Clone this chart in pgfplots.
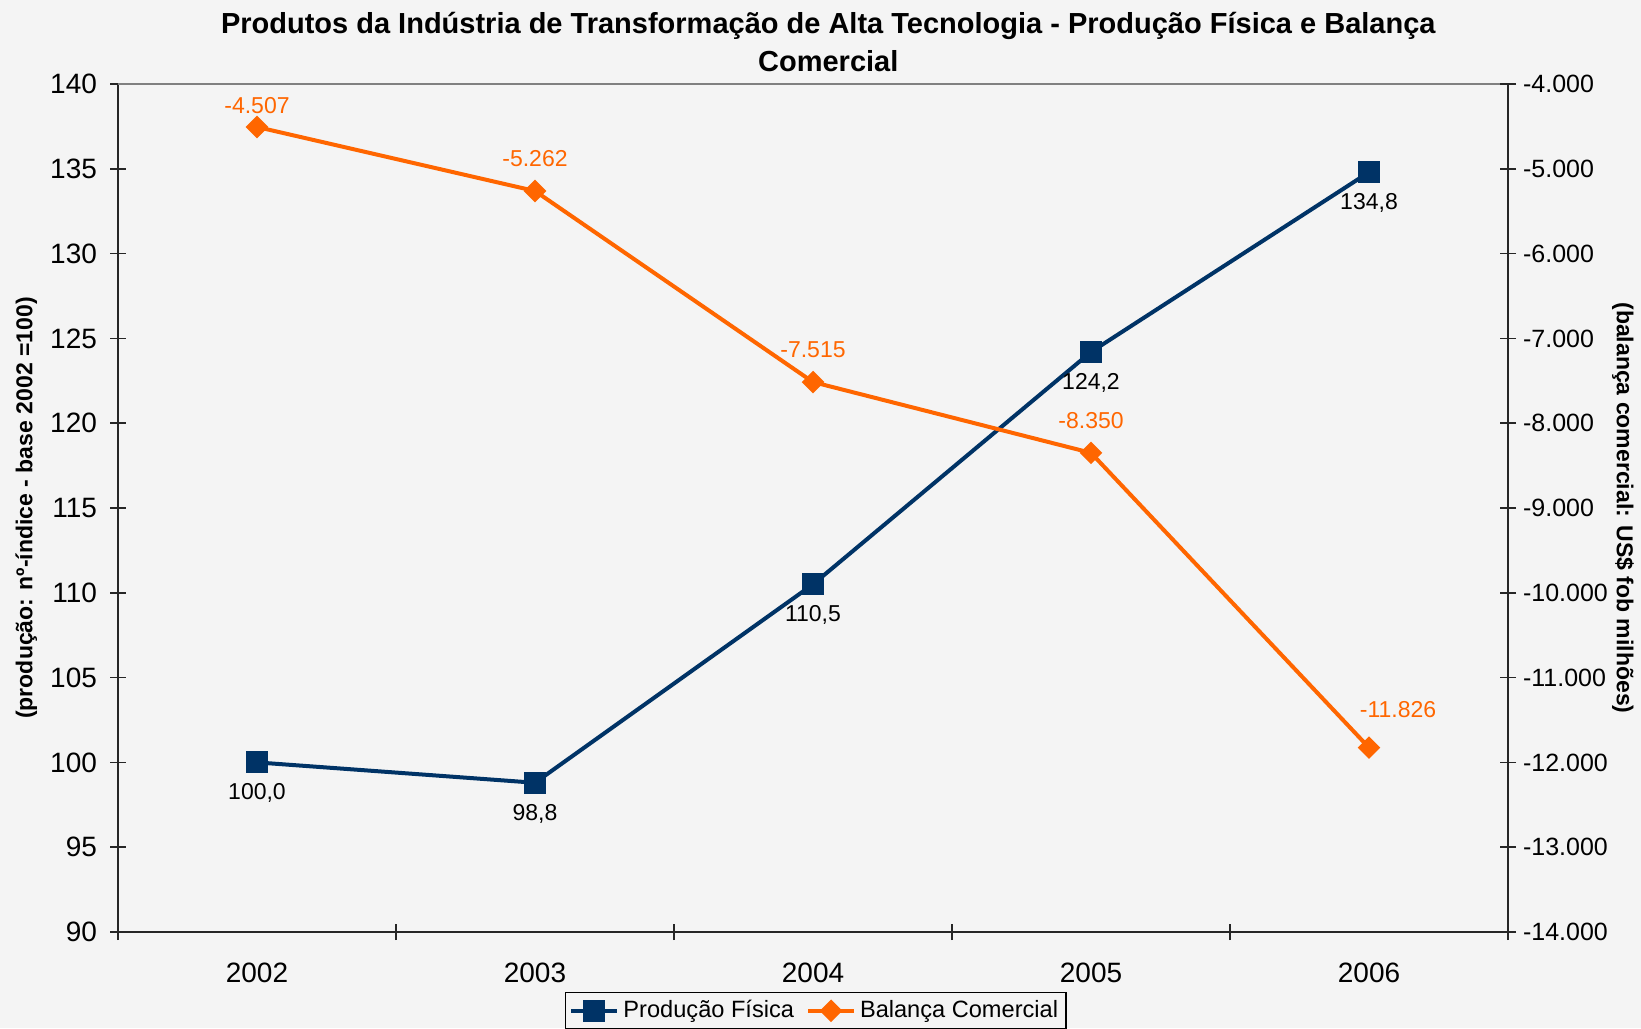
\documentclass[border=0pt]{standalone}
\usepackage{fontspec}
\setmainfont{Liberation Sans}
\usepackage{pgfplots}
\pgfplotsset{compat=1.18}
\definecolor{bg}{HTML}{F4F4F4}
\definecolor{navy}{HTML}{003366}
\definecolor{orng}{HTML}{FF6600}
\definecolor{axc}{HTML}{262626}
\begin{document}
\begin{tikzpicture}
\fill[bg] (0,0) rectangle (820.5pt,514pt);
\begin{axis}[
  at={(59pt,48pt)}, anchor=south west, scale only axis,
  width=695pt, height=424pt,
  xmin=2001.5, xmax=2006.5, ymin=90, ymax=140,
  axis x line*=bottom, axis y line*=left,
  axis line style={axc, line width=1pt},
  xtick={2001.5,2002.5,2003.5,2004.5,2005.5,2006.5},
  x tick label as interval,
  xticklabels={2002,2003,2004,2005,2006},
  ytick={90,95,100,105,110,115,120,125,130,135,140},
  yticklabels={90,95,100,105,110,115,120,125,130,135,140},
  tick align=center, major tick length=8pt,
  tick style={axc, line width=0.8pt},
  xticklabel style={font=\fontsize{14}{16}\selectfont, yshift=-8pt},
  yticklabel style={font=\fontsize{14}{16}\selectfont, xshift=-3pt},
  ylabel={(produção: nº-índice - base 2002 =100)},
  ylabel style={font=\bfseries\fontsize{11.5}{13}\selectfont, at={(axis description cs:-0.066,0.5)}, anchor=center},
  title={Produtos da Indústria de Transformação de Alta Tecnologia - Produção Física e Balança\\Comercial},
  title style={font=\bfseries\fontsize{14.5}{19}\selectfont, align=center, at={(axis description cs:0.511,1.035)}, anchor=center},
  clip=false,
  after end axis/.code={\draw[gray, line width=0.8pt] (rel axis cs:0,1) -- (rel axis cs:1,1);},
]
\addplot[navy, line width=2pt, mark=square*, mark size=4.5pt, mark options={solid},
  nodes near coords, point meta=explicit symbolic,
  every node near coord/.append style={anchor=center, yshift=-15.5pt, text=black, font=\fontsize{11.5}{13}\selectfont}]
  table[meta=lab] {
x y lab
2002 100.0 100,0
2003 98.8 98,8
2004 110.5 110,5
2005 124.2 124,2
2006 134.8 134,8
};
\end{axis}
\begin{axis}[
  at={(59pt,48pt)}, anchor=south west, scale only axis,
  width=695pt, height=424pt,
  xmin=2001.5, xmax=2006.5, ymin=-14000, ymax=-4000,
  scaled y ticks=false,
  axis x line=none, axis y line*=right,
  axis line style={axc, line width=1pt},
  ytick={-14000,-13000,-12000,-11000,-10000,-9000,-8000,-7000,-6000,-5000,-4000},
  yticklabels={-14.000,-13.000,-12.000,-11.000,-10.000,-9.000,-8.000,-7.000,-6.000,-5.000,-4.000},
  tick align=center, major tick length=8pt,
  tick style={axc, line width=0.8pt},
  yticklabel style={font=\fontsize{12.5}{14}\selectfont, xshift=0pt},
  ylabel={(balança comercial: US\$ fob milhões)},
  ylabel style={font=\bfseries\fontsize{11.5}{13}\selectfont, at={(axis description cs:1.0827,0.5)}, anchor=center, rotate=180},
  clip=false,
  legend style={at={(axis description cs:0.502,0)}, anchor=north, yshift=-30pt,
    legend columns=2, draw=black, line width=0.6pt, fill=bg,
    font=\fontsize{11.8}{13}\selectfont, inner sep=2pt,
    /tikz/every even column/.append style={column sep=4pt}},
  legend image code/.code={\draw[mark repeat=2,mark phase=2,#1] plot coordinates {(0pt,0pt)(11.5pt,0pt)(23pt,0pt)};},
]
\addlegendimage{navy, line width=2pt, mark=square*, mark size=4.5pt, mark options={solid}}
\addlegendentry{Produção Física}
\addplot[orng, line width=2pt, mark=square*, mark size=3pt, mark options={solid, rotate=45}]
  table {
x y
2002 -4507
2003 -5262
2004 -7515
2005 -8350
2006 -11826
};
\addlegendentry{Balança Comercial}
\addplot[draw=none, mark=none, forget plot, nodes near coords, point meta=explicit symbolic,
  every node near coord/.append style={anchor=center, yshift=16pt, text=orng, font=\fontsize{11.5}{13}\selectfont}]
  table[meta=lab] {
x y lab
2003 -5262 -5.262
2004 -7515 -7.515
2005 -8350 -8.350
};
\addplot[draw=none, mark=none, forget plot, nodes near coords, point meta=explicit symbolic,
  every node near coord/.append style={anchor=center, yshift=10.5pt, text=orng, font=\fontsize{11.5}{13}\selectfont}]
  table[meta=lab] {
x y lab
2002 -4507 -4.507
};
\addplot[draw=none, mark=none, forget plot, nodes near coords, point meta=explicit symbolic,
  every node near coord/.append style={anchor=center, yshift=19pt, xshift=14.5pt, text=orng, font=\fontsize{11.5}{13}\selectfont}]
  table[meta=lab] {
x y lab
2006 -11826 -11.826
};
\end{axis}
\pgfresetboundingbox
\useasboundingbox (0,0) rectangle (820.5pt,514pt);
\end{tikzpicture}
\end{document}
